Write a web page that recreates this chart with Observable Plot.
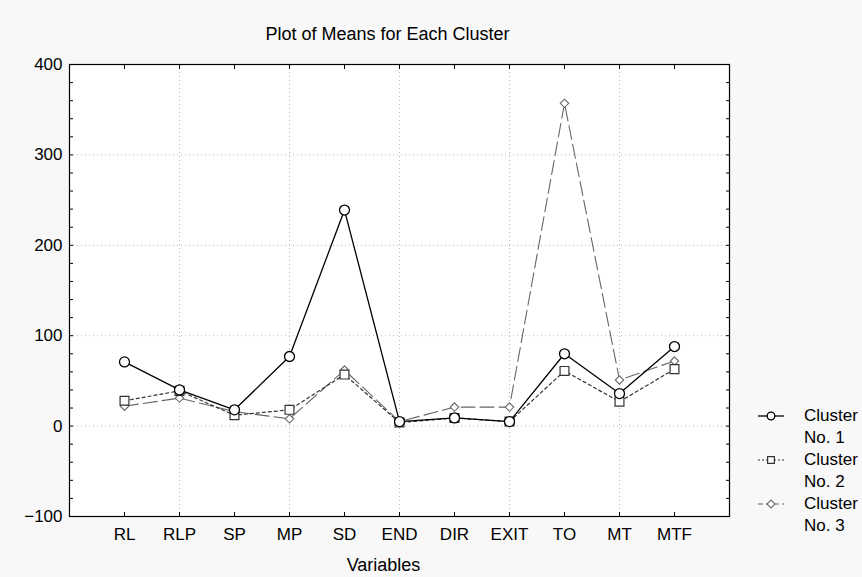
<!DOCTYPE html>
<html><head><meta charset="utf-8">
<script src="https://cdn.jsdelivr.net/npm/d3@7"></script>
<script src="https://cdn.jsdelivr.net/npm/@observablehq/plot@0.6"></script>
<style>
html,body{margin:0;padding:0;background:#f8f8f8;}
#wrap{position:relative;width:862px;height:577px;overflow:hidden;font-family:"Liberation Sans",Arial,sans-serif;}
.leg{position:absolute;left:757px;height:44px;width:110px;}
.leg svg{position:absolute;left:0;top:0;}
.leg .t{position:absolute;left:47px;top:0;font-size:17px;line-height:22px;color:#000;white-space:nowrap;}
</style></head><body><div id="wrap"></div>
<script>
const categories = ["RL","RLP","SP","MP","SD","END","DIR","EXIT","TO","MT","MTF"];
const cluster1 = [71, 40, 18, 77, 239, 5, 9, 5, 80, 36, 88];
const cluster2 = [28, 39, 12, 18, 57, 4, 9, 5, 61, 27, 63];
const cluster3 = [22, 31, 16, 8, 62, 5, 21, 21, 357, 51, 72];
const seriesNames = ["Cluster No. 1", "Cluster No. 2", "Cluster No. 3"];
const legendLines = [["Cluster", "No. 1"], ["Cluster", "No. 2"], ["Cluster", "No. 3"]];
const yTicks = [-100, 0, 100, 200, 300, 400];
const yMinorStep = 20;
const title = "Plot of Means for Each Cluster";
const xLabel = "Variables";

const styles = [
  {stroke: "#000", dash: null, symbol: "circle", r: 5, sw: 1.3},
  {stroke: "#333", dash: "3,3", symbol: "square", r: 5, sw: 1.2},
  {stroke: "#666", dash: "14,5", symbol: "diamond2", r: 3.8, sw: 1.1}
];

const seriesVals = [cluster1, cluster2, cluster3];
const rows = [];
seriesVals.forEach((vals, s) => vals.forEach((v, i) => rows.push({series: seriesNames[s], pos: i + 1, value: v})));

const positions = categories.map((c, i) => i + 1);
const minorTicks = d3.range(yTicks[0], yTicks[yTicks.length - 1] + 1, yMinorStep);
const gridX = positions.filter(p => p % 2 === 0);
const gridY = yTicks.slice(1, -1);

const seriesMarks = [];
[2, 1, 0].forEach(s => {
  const st = styles[s];
  const data = rows.filter(d => d.series === seriesNames[s]);
  seriesMarks.push(Plot.line(data, {x: "pos", y: "value", stroke: st.stroke, strokeWidth: st.sw, strokeDasharray: st.dash}));
  seriesMarks.push(Plot.dot(data, {x: "pos", y: "value", symbol: st.symbol, r: st.r, stroke: st.stroke, fill: "white", strokeWidth: st.sw}));
});

const chart = Plot.plot({
  width: 862, height: 577,
  marginLeft: 69, marginRight: 133, marginTop: 64, marginBottom: 61,
  style: {background: "transparent", fontFamily: "'Liberation Sans', Arial, sans-serif", fontSize: "17px", color: "#000"},
  x: {type: "linear", domain: [0, categories.length + 1], label: null},
  y: {type: "linear", domain: [yTicks[0], yTicks[yTicks.length - 1]], label: null},
  marks: [
    Plot.frame({fill: "white", stroke: null}),
    Plot.gridY(gridY, {stroke: "#b5b5b5", strokeOpacity: 1, strokeDasharray: "1,3"}),
    Plot.gridX(gridX, {stroke: "#b5b5b5", strokeOpacity: 1, strokeDasharray: "1,3"}),
    ...seriesMarks,
    Plot.axisY(minorTicks, {anchor: "left", tickSize: -4, tickFormat: () => "", label: null}),
    Plot.axisY(minorTicks, {anchor: "right", tickSize: -4, tickFormat: () => "", label: null}),
    Plot.axisX(positions, {anchor: "top", tickSize: -4, tickFormat: () => "", label: null}),
    Plot.axisX(positions, {anchor: "bottom", tickSize: -4, tickFormat: () => "", label: null}),
    Plot.axisY(yTicks, {anchor: "left", tickSize: 0, tickPadding: 7, label: null, fontSize: 17}),
    Plot.axisX(positions, {anchor: "bottom", tickSize: 0, tickPadding: 11, tickFormat: p => categories[p - 1], label: null, fontSize: 17}),
    Plot.text([title], {frameAnchor: "top", lineAnchor: "middle", dy: -30, dx: -12, fontSize: 18}),
    Plot.text([xLabel], {frameAnchor: "bottom", lineAnchor: "middle", dy: 49, dx: -16, fontSize: 18}),
    Plot.frame({stroke: "#000", strokeWidth: 1.2})
  ]
});
const wrap = document.getElementById("wrap");
wrap.appendChild(chart);

// legend
legendLines.forEach((lines, s) => {
  const st = styles[s];
  const div = document.createElement("div");
  div.className = "leg";
  div.style.top = (405 + s * 44) + "px";
  const svg = d3.create("svg").attr("width", 30).attr("height", 22);
  svg.append("line").attr("x1", 1).attr("x2", 27).attr("y1", 11).attr("y2", 11)
    .attr("stroke", st.stroke).attr("stroke-width", st.sw)
    .attr("stroke-dasharray", s === 0 ? null : (s === 1 ? "2,2" : "5,3"));
  const sym = {circle: d3.symbolCircle, square: d3.symbolSquare, diamond2: d3.symbolSquare}[st.symbol];
  const sz = s === 2 ? 3.2 : 3.8;
  svg.append("path").attr("d", d3.symbol(sym, Math.PI * sz * sz)())
    .attr("transform", `translate(14,11)${s === 2 ? " rotate(45)" : ""}`)
    .attr("fill", "white").attr("stroke", st.stroke).attr("stroke-width", st.sw);
  div.appendChild(svg.node());
  const t = document.createElement("div");
  t.className = "t";
  t.innerHTML = lines.join("<br>");
  div.appendChild(t);
  wrap.appendChild(div);
});
</script></body></html>
